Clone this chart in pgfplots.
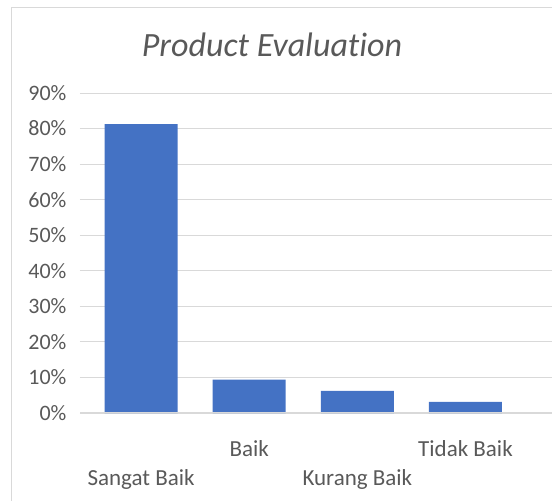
\documentclass[border=0pt]{standalone}
\usepackage{pgfplots}
\pgfplotsset{compat=1.18}
\usepackage{fontspec}
\setmainfont{Carlito}[Ligatures=NoCommon]
\definecolor{barblue}{HTML}{4472C4}
\definecolor{gridgray}{HTML}{D9D9D9}
\definecolor{textgray}{HTML}{595959}
\begin{document}
\begin{tikzpicture}
\useasboundingbox (0pt,0pt) rectangle (552pt,501pt);
\draw[gridgray, line width=1pt] (11pt,-20pt) -- (11pt,493pt) -- (570pt,493pt);
\node[anchor=base, text=textgray, font=\fontsize{34}{40}\selectfont\itshape] at (272pt,444pt) {Product Evaluation};
\begin{axis}[
  at={(80pt,88pt)}, anchor=south west,
  scale only axis,
  width=472pt, height=320pt,
  xmin=-0.565, xmax=3.8,
  ymin=0, ymax=90,
  ytick={0,10,...,90},
  yticklabel={\pgfmathprintnumber{\tick}\%},
  /pgf/number format/assume math mode=true,
  xtick=data,
  xticklabels={},
  axis line style={draw=none},
  ymajorgrids, grid style={gridgray, line width=1pt},
  major tick length=0pt,
  ticklabel style={text=textgray, font=\fontsize{23}{27}\selectfont},
  yticklabel style={anchor=east, xshift=-10pt, font=\fontsize{22}{26}\selectfont},
  extra x ticks={0,2},
  extra x tick labels={Sangat Baik, Kurang Baik},
  extra x tick style={tick label style={anchor=base, yshift=-72pt}, grid=none},
  clip=false,
]
\addplot[ybar, bar width=73pt, fill=barblue, draw=none] coordinates {(0,81.25) (1,9.375) (2,6.25) (3,3.125)};
\end{axis}
\begin{axis}[
  at={(80pt,88pt)}, anchor=south west,
  scale only axis,
  width=472pt, height=320pt,
  xmin=-0.565, xmax=3.8,
  ymin=0, ymax=90,
  axis line style={draw=none},
  xtick={1,3},
  xticklabels={Baik, Tidak Baik},
  major tick length=0pt,
  ytick=\empty,
  ticklabel style={text=textgray, font=\fontsize{23}{27}\selectfont},
  xticklabel style={anchor=base, yshift=-43pt},
]
\addplot[draw=none] coordinates {(0,0)};
\end{axis}
\draw[gridgray, line width=1pt] (80pt,88pt) -- (552pt,88pt);
\end{tikzpicture}
\end{document}
